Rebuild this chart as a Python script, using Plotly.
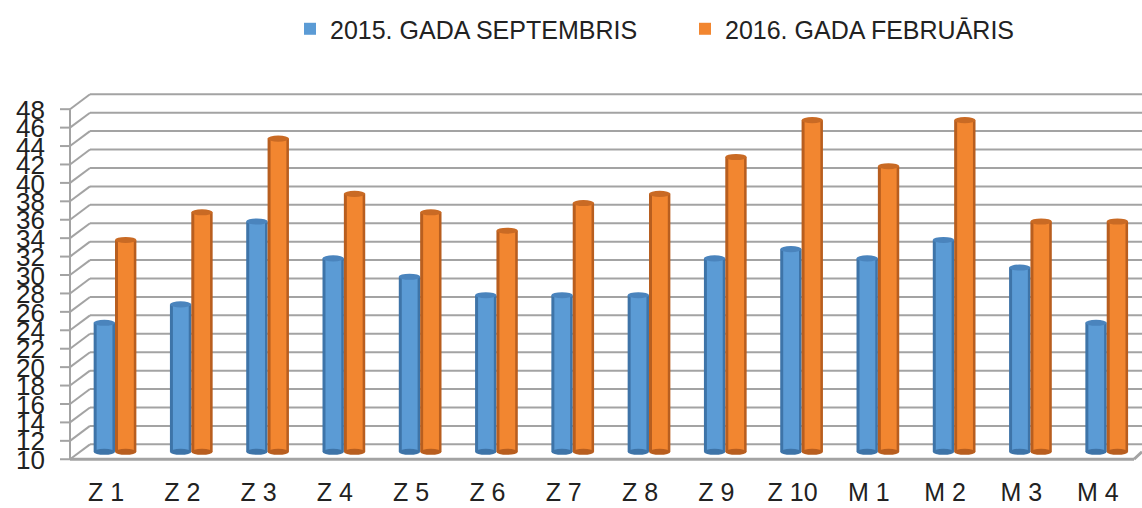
import plotly.graph_objects as go

# ---- data ----
categories = ["Z 1", "Z 2", "Z 3", "Z 4", "Z 5", "Z 6", "Z 7", "Z 8", "Z 9", "Z 10",
              "M 1", "M 2", "M 3", "M 4"]
sept_2015 = [24, 26, 35, 31, 29, 27, 27, 27, 31, 32, 31, 33, 30, 24]
feb_2016 = [33, 36, 44, 38, 36, 34, 37, 38, 42, 46, 41, 46, 35, 35]
y_ticks = list(range(10, 50, 2))
series_names = ["2015. GADA SEPTEMBRIS", "2016. GADA FEBRUĀRIS"]

# ---- style ----
BASE = 10
W = 0.28
DEPTH = 0.81          # half depth of the 3D box in value units
CAP = 0.33            # half height of cylinder cap ellipse
PL, PR = 70, 1138     # plot left/right in px
FIG_W, FIG_H = 1142, 508
GRID = "#a3a3a3"
FONT = "Liberation Sans, Arial, sans-serif"
TXT = "#222222"


def paper_x(px):
    return (px - PL) / (PR - PL)


idx = list(range(len(categories)))
styles = [
    (sept_2015, series_names[0], "#5B9BD5", "#3E74A8", "#4A84BD", -W),
    (feb_2016, series_names[1], "#F28630", "#B85E1F", "#C96A24", 0.0),
]

fig = go.Figure()
shapes = []

# 3D box: back wall gridlines, left wall diagonals, front ticks
for v in y_ticks:
    shapes.append(dict(type="line", xref="paper", yref="y",
                       x0=paper_x(90), x1=paper_x(1142), y0=v + DEPTH, y1=v + DEPTH,
                       line=dict(color=GRID, width=2), layer="below"))
    shapes.append(dict(type="line", xref="paper", yref="y",
                       x0=paper_x(70), x1=paper_x(90), y0=v - DEPTH, y1=v + DEPTH,
                       line=dict(color=GRID, width=2), layer="below"))
    shapes.append(dict(type="line", xref="paper", yref="y",
                       x0=paper_x(60), x1=paper_x(70), y0=v - DEPTH, y1=v - DEPTH,
                       line=dict(color=GRID, width=2), layer="below"))
# front vertical edge of left wall
shapes.append(dict(type="line", xref="paper", yref="y",
                   x0=paper_x(70), x1=paper_x(70), y0=y_ticks[0] - DEPTH, y1=y_ticks[-1] - DEPTH,
                   line=dict(color=GRID, width=2), layer="below"))
# front floor edge
shapes.append(dict(type="line", xref="paper", yref="y",
                   x0=paper_x(70), x1=paper_x(1134), y0=y_ticks[0] - DEPTH, y1=y_ticks[0] - DEPTH,
                   line=dict(color=GRID, width=3), layer="below"))
shapes.append(dict(type="line", xref="paper", yref="y",
                   x0=paper_x(1134), x1=paper_x(1142), y0=y_ticks[0] - DEPTH, y1=y_ticks[0],
                   line=dict(color=GRID, width=3), layer="below"))

for vals, name, main, dark, cap, off in styles:
    heights = [v - BASE for v in vals]
    fig.add_trace(go.Bar(x=idx, y=heights, base=BASE, width=W, offset=off,
                         marker=dict(color=dark, line=dict(width=0)),
                         showlegend=False, hoverinfo="skip"))
    fig.add_trace(go.Bar(x=idx, y=heights, base=BASE, width=W * 0.74, offset=off + W * 0.14,
                         marker=dict(color=main, line=dict(width=0)), name=name,
                         customdata=vals, hovertemplate="%{customdata}<extra>" + name + "</extra>"))
    for i, v in zip(idx, vals):
        shapes.append(dict(type="circle", xref="x", yref="y",
                           x0=i + off, x1=i + off + W, y0=BASE - CAP, y1=BASE + CAP,
                           fillcolor=dark, line=dict(width=0), layer="above"))
        shapes.append(dict(type="circle", xref="x", yref="y",
                           x0=i + off, x1=i + off + W, y0=v - CAP, y1=v + CAP,
                           fillcolor=cap, line=dict(width=0), layer="above"))

top_px = 87
bot_px = 47
fig.update_layout(
    width=FIG_W, height=FIG_H,
    margin=dict(l=PL, r=FIG_W - PR, t=top_px, b=bot_px, autoexpand=False),
    paper_bgcolor="white", plot_bgcolor="white",
    barmode="overlay",
    shapes=shapes,
    font=dict(family=FONT, color=TXT),
    showlegend=True,
    legend=dict(orientation="h", x=paper_x(290), xanchor="left", y=1.155, yanchor="middle",
                font=dict(size=25, family=FONT, color=TXT),
                entrywidth=350, entrywidthmode="pixels", bgcolor="rgba(0,0,0,0)"),
    xaxis=dict(range=[-0.59, 13.41], tickvals=idx, ticktext=categories, automargin=False,
               showgrid=False, zeroline=False, showline=False, ticks="",
               tickfont=dict(size=25, family=FONT, color=TXT),
               ticklabelstandoff=14, ticklabelshift=-9),
    yaxis=dict(range=[9.0, 49.6], tickvals=y_ticks, ticktext=[str(t) for t in y_ticks],
               automargin=False,
               showgrid=False, zeroline=False, showline=False, ticks="",
               tickfont=dict(size=26, family=FONT, color=TXT),
               ticklabelstandoff=24, ticklabelshift=8),
)

fig.write_html("out.html", config={"displayModeBar": False},
               post_script="document.body.style.margin='0';")
